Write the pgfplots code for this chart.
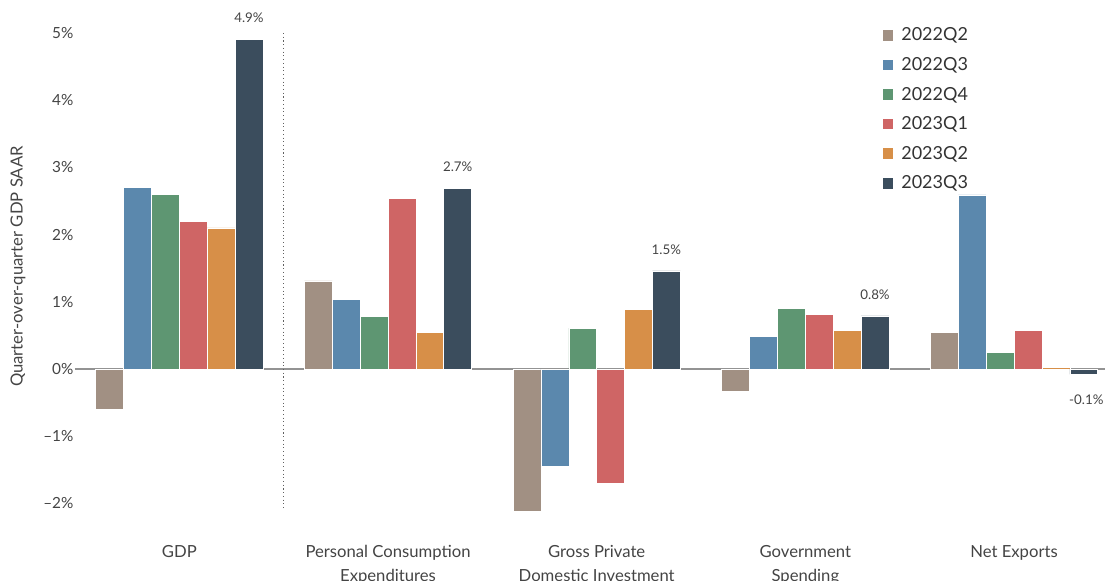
\documentclass[border=0pt]{standalone}
\usepackage{pgfplots}
\pgfplotsset{compat=1.18}
\usepackage{fontspec}
\setmainfont{Lato}

\definecolor{cA}{HTML}{A19083}
\definecolor{cB}{HTML}{5B88AD}
\definecolor{cC}{HTML}{5E9672}
\definecolor{cD}{HTML}{CF6565}
\definecolor{cE}{HTML}{D78F48}
\definecolor{cF}{HTML}{3B4D5D}
\definecolor{txt}{HTML}{444444}

\begin{document}
\begin{tikzpicture}
\begin{axis}[
  at={(0,0)}, anchor=south west,
  scale only axis,
  width=772.5pt, height=385.6pt,
  xmin=-0.5, xmax=4.436,
  ymin=-2.3, ymax=5.35,
  axis line style={draw=none},
  ybar, bar width=20.9pt,
  xtick={0,1,2,3,4},
  xticklabels={GDP, Personal Consumption\\Expenditures, Gross Private\\Domestic Investment, Government\\Spending, Net Exports},
  xticklabel style={align=center, font=\fontsize{12.5}{17.5}\selectfont, text=txt, anchor=north, yshift=-13pt},
  ytick={-2,-1,0,1,2,3,4,5},
  yticklabels={--2\%, --1\%, 0\%, 1\%, 2\%, 3\%, 4\%, 5\%},
  yticklabel style={font=\fontsize{11.5}{13}\selectfont, text=txt, inner sep=1pt},
  major tick length=0pt,
  tick style={draw=none},
  extra y ticks={0}, extra y tick labels={},
  extra y tick style={grid=major, grid style={color=gray!85, line width=0.8pt}},
  ylabel={Quarter-over-quarter GDP SAAR},
  every axis y label/.style={at={([xshift=-42.75pt]axis description cs:0,0.5)}, rotate=90, anchor=center,
    font=\fontsize{12.5}{14}\selectfont, text=txt},
  legend style={draw=none, fill=none, at={(axis description cs:0.780,0.975)}, anchor=north west,
    font=\fontsize{13.5}{16}\selectfont, text=black!80, row sep=6.9pt, column sep=4pt},
  legend cell align=left,
  legend image code/.code={\fill[#1, draw=none] (0pt,-4pt) rectangle (8pt,4pt);},
  every axis plot/.append style={draw=white, line width=0.4pt},
]
\addplot[fill=cA, bar shift=-52.25pt] coordinates {(0,-0.6) (1,1.31) (2,-2.11) (3,-0.33) (4,0.55)};
\addlegendentry{2022Q2}
\addplot[fill=cB, bar shift=-31.35pt] coordinates {(0,2.7) (1,1.04) (2,-1.45) (3,0.48) (4,2.59)};
\addlegendentry{2022Q3}
\addplot[fill=cC, bar shift=-10.45pt] coordinates {(0,2.6) (1,0.78) (2,0.61) (3,0.9) (4,0.25)};
\addlegendentry{2022Q4}
\addplot[fill=cD, bar shift=10.45pt] coordinates {(0,2.2) (1,2.54) (2,-1.7) (3,0.81) (4,0.57)};
\addlegendentry{2023Q1}
\addplot[fill=cE, bar shift=31.35pt] coordinates {(0,2.1) (1,0.54) (2,0.89) (3,0.57) (4,0.03)};
\addlegendentry{2023Q2}
\addplot[fill=cF, bar shift=52.25pt, point meta=explicit symbolic,
  visualization depends on=rawy \as \rawy,
  nodes near coords={\pgfplotspointmeta},
  every node near coord/.append style={font=\fontsize{10}{11}\selectfont, text=txt,
    yshift={ifthenelse(\rawy>0,9,-26)}, xshift={ifthenelse(\rawy>0,0,2)}}]
  coordinates {(0,4.9) [4.9\%] (1,2.69) [2.7\%] (2,1.46) [1.5\%] (3,0.79) [0.8\%] (4,-0.08) [-0.1\%]};
\addlegendentry{2023Q3}
\draw[dotted, color=gray!75!black, line width=0.8pt] (axis cs:0.5,5.0) -- (axis cs:0.5,-2.07);
\end{axis}
\pgfresetboundingbox
\path (-56.25pt,392.7pt) rectangle (772.5pt,-43.05pt);
\end{tikzpicture}
\end{document}
